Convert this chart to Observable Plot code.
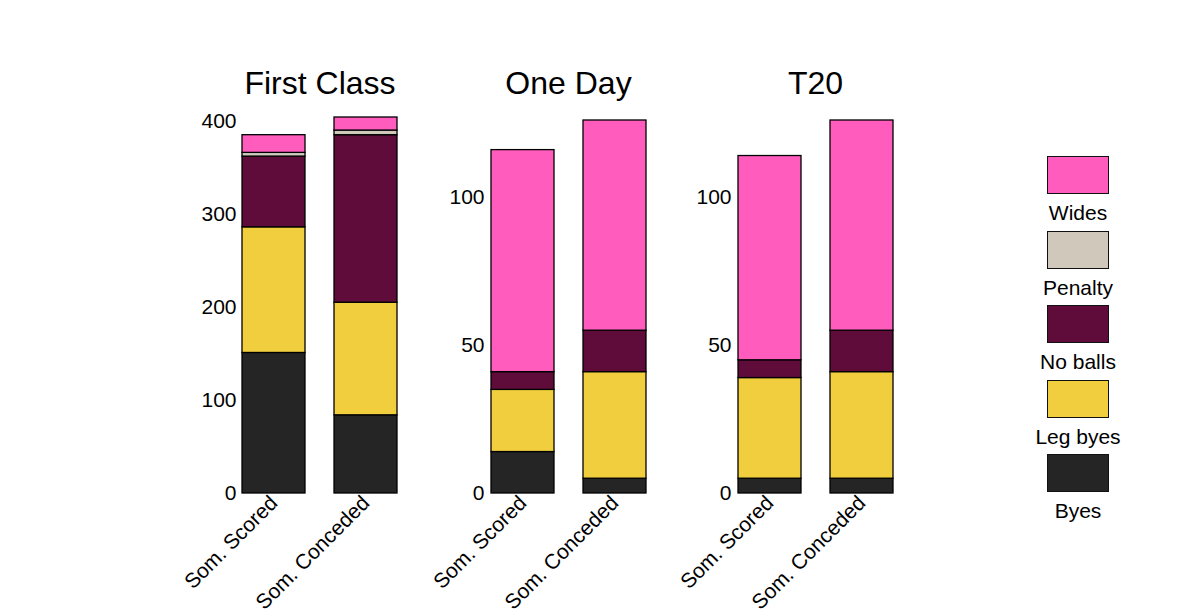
<!DOCTYPE html>
<html>
<head>
<meta charset="utf-8">
<script src="https://cdn.jsdelivr.net/npm/d3@7"></script>
<script src="https://cdn.jsdelivr.net/npm/@observablehq/plot@0.6"></script>
<style>
  html, body { margin: 0; padding: 0; background: #fff; }
  #wrap { position: relative; width: 1200px; height: 613px; overflow: hidden; background: #fff;
          font-family: "Liberation Sans", Arial, sans-serif; color: #000; }
  .panel { position: absolute; top: 0; }
  .panel svg { overflow: visible; }
  #legend { position: absolute; left: 1018px; top: 156px; width: 120px; }
  .item { height: 74.6px; display: flex; flex-direction: column; align-items: center; }
  .sw { width: 60px; height: 36px; border: 1px solid #111; box-sizing: content-box; }
  .lab { font-size: 21px; line-height: 21px; margin-top: 8px; }
</style>
</head>
<body>
<div id="wrap"></div>
<script>
const categories = ["Som. Scored", "Som. Conceded"];
const types = ["Byes", "Leg byes", "No balls", "Penalty", "Wides"];
const colors = ["#252525", "#F0CE3E", "#600C3B", "#CFC8BB", "#FF5CBE"];
const formats = ["First Class", "One Day", "T20"];

const firstClassScored   = [151, 135, 76, 4, 19];
const firstClassConceded = [84, 121, 180, 5, 14];
const oneDayScored       = [14, 21, 6, 0, 75];
const oneDayConceded     = [5, 36, 14, 0, 71];
const t20Scored          = [5, 34, 6, 0, 69];
const t20Conceded        = [5, 36, 14, 0, 71];

const firstClassTicks = [0, 100, 200, 300, 400];
const limitedTicks = [0, 50, 100];

const panelData = [
  [firstClassScored, firstClassConceded],
  [oneDayScored, oneDayConceded],
  [t20Scored, t20Conceded]
];
const panelTicks = [firstClassTicks, limitedTicks, limitedTicks];
// layout: [left, width, marginLeft, marginTop]
const layout = [
  [150, 258, 92, 117],
  [400, 255, 90, 120],
  [650, 252, 87, 120]
];

const wrap = document.getElementById("wrap");

formats.forEach((fmt, i) => {
  const rows = [];
  categories.forEach((cat, c) => {
    types.forEach((t, k) => {
      const v = panelData[i][c][k];
      if (v > 0) rows.push({cat, type: t, value: v});
    });
  });
  const maxTotal = d3.max(panelData[i], arr => d3.sum(arr));
  const [left, width, ml, mt] = layout[i];
  const chart = Plot.plot({
    width,
    height: 613,
    marginLeft: ml,
    marginRight: width - ml - 156 + (i === 0 ? 1 : 0),
    marginTop: mt,
    marginBottom: 120,
    style: {background: "transparent", overflow: "visible", fontFamily: "Liberation Sans, Arial, sans-serif", color: "#000"},
    x: {domain: categories, paddingInner: 0.32, paddingOuter: 0, label: null},
    y: {domain: [0, maxTotal], label: null},
    color: {domain: types, range: colors},
    marks: [
      Plot.barY(rows, {x: "cat", y: "value", fill: "type", stroke: "#000", strokeWidth: 1.3, order: types}),
      Plot.axisY({ticks: panelTicks[i], tickSize: 0, tickPadding: 6, fontSize: 21, label: null}),
      Plot.axisX({tickSize: 0, tickPadding: 6, tickRotate: -45, fontSize: 21, label: null}),
      Plot.text([fmt], {text: d => d, frameAnchor: "top", dy: -(mt - 83), fontSize: 32, lineAnchor: "middle"})
    ]
  });
  const div = document.createElement("div");
  div.className = "panel";
  div.style.left = left + "px";
  div.appendChild(chart);
  wrap.appendChild(div);
});

// legend (top to bottom: Wides ... Byes)
const legend = document.createElement("div");
legend.id = "legend";
types.slice().reverse().forEach(t => {
  const item = document.createElement("div");
  item.className = "item";
  const sw = document.createElement("div");
  sw.className = "sw";
  sw.style.background = colors[types.indexOf(t)];
  const lab = document.createElement("div");
  lab.className = "lab";
  lab.textContent = t;
  item.appendChild(sw);
  item.appendChild(lab);
  legend.appendChild(item);
});
wrap.appendChild(legend);
</script>
</body>
</html>
